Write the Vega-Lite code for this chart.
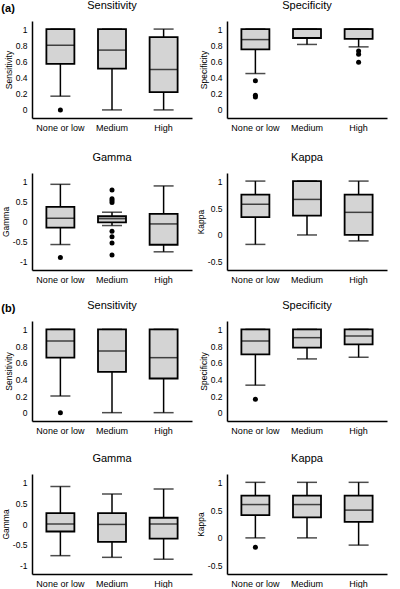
{
"$schema": "https://vega.github.io/schema/vega-lite/v6.json",
"padding": {"left": 1, "top": 0, "right": 4, "bottom": 0},
"spacing": 16,
"datasets": {
"boxes": [
{"g":"a","m":"Sensitivity","cat":"None or low","lo":0.17,"q1":0.57,"med":0.8,"q3":1,"hi":1},
{"g":"a","m":"Sensitivity","cat":"Medium","lo":0,"q1":0.51,"med":0.74,"q3":1,"hi":1},
{"g":"a","m":"Sensitivity","cat":"High","lo":0,"q1":0.22,"med":0.5,"q3":0.9,"hi":1},
{"g":"a","m":"Specificity","cat":"None or low","lo":0.45,"q1":0.75,"med":0.87,"q3":1,"hi":1},
{"g":"a","m":"Specificity","cat":"Medium","lo":0.81,"q1":0.89,"med":1,"q3":1,"hi":1},
{"g":"a","m":"Specificity","cat":"High","lo":0.78,"q1":0.88,"med":1,"q3":1,"hi":1},
{"g":"a","m":"Gamma","cat":"None or low","lo":-0.57,"q1":-0.15,"med":0.08,"q3":0.36,"hi":0.92},
{"g":"a","m":"Gamma","cat":"Medium","lo":-0.1,"q1":-0.02,"med":0.07,"q3":0.13,"hi":0.23},
{"g":"a","m":"Gamma","cat":"High","lo":-0.75,"q1":-0.575,"med":-0.06,"q3":0.19,"hi":0.88},
{"g":"a","m":"Kappa","cat":"None or low","lo":-0.175,"q1":0.33,"med":0.57,"q3":0.75,"hi":1},
{"g":"a","m":"Kappa","cat":"Medium","lo":0,"q1":0.36,"med":0.66,"q3":1,"hi":1},
{"g":"a","m":"Kappa","cat":"High","lo":-0.11,"q1":0,"med":0.42,"q3":0.75,"hi":1},
{"g":"b","m":"Sensitivity","cat":"None or low","lo":0.2,"q1":0.66,"med":0.86,"q3":1,"hi":1},
{"g":"b","m":"Sensitivity","cat":"Medium","lo":0,"q1":0.49,"med":0.74,"q3":1,"hi":1},
{"g":"b","m":"Sensitivity","cat":"High","lo":0,"q1":0.41,"med":0.66,"q3":1,"hi":1},
{"g":"b","m":"Specificity","cat":"None or low","lo":0.33,"q1":0.7,"med":0.86,"q3":1,"hi":1},
{"g":"b","m":"Specificity","cat":"Medium","lo":0.645,"q1":0.78,"med":0.9,"q3":1,"hi":1},
{"g":"b","m":"Specificity","cat":"High","lo":0.665,"q1":0.82,"med":0.92,"q3":1,"hi":1},
{"g":"b","m":"Gamma","cat":"None or low","lo":-0.76,"q1":-0.18,"med":0,"q3":0.26,"hi":0.9},
{"g":"b","m":"Gamma","cat":"Medium","lo":-0.8,"q1":-0.43,"med":-0.01,"q3":0.26,"hi":0.72},
{"g":"b","m":"Gamma","cat":"High","lo":-0.845,"q1":-0.35,"med":0,"q3":0.15,"hi":0.84},
{"g":"b","m":"Kappa","cat":"None or low","lo":0,"q1":0.41,"med":0.6,"q3":0.76,"hi":1},
{"g":"b","m":"Kappa","cat":"Medium","lo":0,"q1":0.37,"med":0.6,"q3":0.76,"hi":1},
{"g":"b","m":"Kappa","cat":"High","lo":-0.13,"q1":0.29,"med":0.5,"q3":0.76,"hi":1}
],
"outliers": [
{"g":"a","m":"Sensitivity","cat":"None or low","v":0},
{"g":"a","m":"Specificity","cat":"None or low","v":0.36},
{"g":"a","m":"Specificity","cat":"None or low","v":0.18},
{"g":"a","m":"Specificity","cat":"None or low","v":0.16},
{"g":"a","m":"Specificity","cat":"High","v":0.73},
{"g":"a","m":"Specificity","cat":"High","v":0.69},
{"g":"a","m":"Specificity","cat":"High","v":0.59},
{"g":"a","m":"Gamma","cat":"None or low","v":-0.89},
{"g":"a","m":"Gamma","cat":"Medium","v":0.78},
{"g":"a","m":"Gamma","cat":"Medium","v":0.56},
{"g":"a","m":"Gamma","cat":"Medium","v":0.52},
{"g":"a","m":"Gamma","cat":"Medium","v":0.47},
{"g":"a","m":"Gamma","cat":"Medium","v":-0.24},
{"g":"a","m":"Gamma","cat":"Medium","v":-0.38},
{"g":"a","m":"Gamma","cat":"Medium","v":-0.53},
{"g":"a","m":"Gamma","cat":"Medium","v":-0.83},
{"g":"b","m":"Sensitivity","cat":"None or low","v":0},
{"g":"b","m":"Specificity","cat":"None or low","v":0.16},
{"g":"b","m":"Kappa","cat":"None or low","v":-0.17}
]
},
"config": {
"font": "Liberation Sans",
"view": {"stroke": null},
"axis": {"grid": false, "domainColor": "black", "domainWidth": 1.5, "ticks": false, "labelOverlap": false, "labelFont": "Liberation Sans", "labelFontSize": 9, "labelColor": "black", "labelPadding": 5, "titleFont": "Liberation Sans", "titleFontSize": 8.5, "titleFontWeight": "normal", "titleColor": "black", "titlePadding": 2},
"axisX": {"labelAngle": 0, "labelPadding": 5},
"axisY": {"labelFontSize": 8.5, "labelOverlap": false},
"title": {"font": "Liberation Sans", "fontSize": 11, "fontWeight": "normal", "color": "black", "offset": 10}
},
"vconcat": [
{
"title": {"text": "(a)", "anchor": "start", "fontWeight": "bold", "fontSize": 11, "offset": -14},
"columns": 2,
"spacing": {"row": 20, "column": 4},
"concat": [
{"title": "Sensitivity", "width": 160, "height": 97, "data": {"name": "boxes"}, "transform": [{"filter": "datum.g=='a' && datum.m=='Sensitivity'"}],
"encoding": {"x": {"field": "cat", "type": "nominal", "scale": {"domain": ["None or low","Medium","High"], "paddingInner": 0, "paddingOuter": 0.05}, "axis": {"title": null}}},
"layer": [
{"mark": {"type": "rule", "color": "black", "strokeWidth": 1.5}, "encoding": {"y": {"field": "lo", "type": "quantitative", "title": "Sensitivity", "scale": {"domain": [-0.1, 1.1], "nice": false, "zero": false}, "axis": {"values": [0,0.2,0.4,0.6,0.8,1], "labelExpr": "'' + datum.value", "labelOverlap": false}}, "y2": {"field": "hi"}}},
{"mark": {"type": "bar", "size": 28, "fill": "#d4d4d4", "stroke": "black", "strokeWidth": 1.8}, "encoding": {"y": {"field": "q1", "type": "quantitative", "title": "Sensitivity", "scale": {"domain": [-0.1, 1.1], "nice": false, "zero": false}, "axis": {"values": [0,0.2,0.4,0.6,0.8,1], "labelExpr": "'' + datum.value", "labelOverlap": false}}, "y2": {"field": "q3"}}},
{"mark": {"type": "tick", "size": 28, "thickness": 1.5, "color": "black"}, "encoding": {"y": {"field": "med", "type": "quantitative", "title": "Sensitivity", "scale": {"domain": [-0.1, 1.1], "nice": false, "zero": false}, "axis": {"values": [0,0.2,0.4,0.6,0.8,1], "labelExpr": "'' + datum.value", "labelOverlap": false}}}},
{"mark": {"type": "tick", "size": 20, "thickness": 1.5, "color": "black"}, "encoding": {"y": {"field": "lo", "type": "quantitative", "title": "Sensitivity", "scale": {"domain": [-0.1, 1.1], "nice": false, "zero": false}, "axis": {"values": [0,0.2,0.4,0.6,0.8,1], "labelExpr": "'' + datum.value", "labelOverlap": false}}}},
{"mark": {"type": "tick", "size": 20, "thickness": 1.5, "color": "black"}, "encoding": {"y": {"field": "hi", "type": "quantitative", "title": "Sensitivity", "scale": {"domain": [-0.1, 1.1], "nice": false, "zero": false}, "axis": {"values": [0,0.2,0.4,0.6,0.8,1], "labelExpr": "'' + datum.value", "labelOverlap": false}}}},
{"data": {"name": "outliers"}, "transform": [{"filter": "datum.g=='a' && datum.m=='Sensitivity'"}], "mark": {"type": "circle", "size": 25, "color": "black", "opacity": 1}, "encoding": {"y": {"field": "v", "type": "quantitative", "title": "Sensitivity", "scale": {"domain": [-0.1, 1.1], "nice": false, "zero": false}, "axis": {"values": [0,0.2,0.4,0.6,0.8,1], "labelExpr": "'' + datum.value", "labelOverlap": false}}}}
]},
{"title": "Specificity", "width": 160, "height": 97, "data": {"name": "boxes"}, "transform": [{"filter": "datum.g=='a' && datum.m=='Specificity'"}],
"encoding": {"x": {"field": "cat", "type": "nominal", "scale": {"domain": ["None or low","Medium","High"], "paddingInner": 0, "paddingOuter": 0.05}, "axis": {"title": null}}},
"layer": [
{"mark": {"type": "rule", "color": "black", "strokeWidth": 1.5}, "encoding": {"y": {"field": "lo", "type": "quantitative", "title": "Specificity", "scale": {"domain": [-0.1, 1.1], "nice": false, "zero": false}, "axis": {"values": [0,0.2,0.4,0.6,0.8,1], "labelExpr": "'' + datum.value", "labelOverlap": false}}, "y2": {"field": "hi"}}},
{"mark": {"type": "bar", "size": 28, "fill": "#d4d4d4", "stroke": "black", "strokeWidth": 1.8}, "encoding": {"y": {"field": "q1", "type": "quantitative", "title": "Specificity", "scale": {"domain": [-0.1, 1.1], "nice": false, "zero": false}, "axis": {"values": [0,0.2,0.4,0.6,0.8,1], "labelExpr": "'' + datum.value", "labelOverlap": false}}, "y2": {"field": "q3"}}},
{"mark": {"type": "tick", "size": 28, "thickness": 1.5, "color": "black"}, "encoding": {"y": {"field": "med", "type": "quantitative", "title": "Specificity", "scale": {"domain": [-0.1, 1.1], "nice": false, "zero": false}, "axis": {"values": [0,0.2,0.4,0.6,0.8,1], "labelExpr": "'' + datum.value", "labelOverlap": false}}}},
{"mark": {"type": "tick", "size": 20, "thickness": 1.5, "color": "black"}, "encoding": {"y": {"field": "lo", "type": "quantitative", "title": "Specificity", "scale": {"domain": [-0.1, 1.1], "nice": false, "zero": false}, "axis": {"values": [0,0.2,0.4,0.6,0.8,1], "labelExpr": "'' + datum.value", "labelOverlap": false}}}},
{"mark": {"type": "tick", "size": 20, "thickness": 1.5, "color": "black"}, "encoding": {"y": {"field": "hi", "type": "quantitative", "title": "Specificity", "scale": {"domain": [-0.1, 1.1], "nice": false, "zero": false}, "axis": {"values": [0,0.2,0.4,0.6,0.8,1], "labelExpr": "'' + datum.value", "labelOverlap": false}}}},
{"data": {"name": "outliers"}, "transform": [{"filter": "datum.g=='a' && datum.m=='Specificity'"}], "mark": {"type": "circle", "size": 25, "color": "black", "opacity": 1}, "encoding": {"y": {"field": "v", "type": "quantitative", "title": "Specificity", "scale": {"domain": [-0.1, 1.1], "nice": false, "zero": false}, "axis": {"values": [0,0.2,0.4,0.6,0.8,1], "labelExpr": "'' + datum.value", "labelOverlap": false}}}}
]},
{"title": "Gamma", "width": 160, "height": 97, "data": {"name": "boxes"}, "transform": [{"filter": "datum.g=='a' && datum.m=='Gamma'"}],
"encoding": {"x": {"field": "cat", "type": "nominal", "scale": {"domain": ["None or low","Medium","High"], "paddingInner": 0, "paddingOuter": 0.05}, "axis": {"title": null}}},
"layer": [
{"mark": {"type": "rule", "color": "black", "strokeWidth": 1.5}, "encoding": {"y": {"field": "lo", "type": "quantitative", "title": "Gamma", "scale": {"domain": [-1.2, 1.2], "nice": false, "zero": false}, "axis": {"values": [-1,-0.5,0,0.5,1], "labelExpr": "'' + datum.value", "labelOverlap": false}}, "y2": {"field": "hi"}}},
{"mark": {"type": "bar", "size": 28, "fill": "#d4d4d4", "stroke": "black", "strokeWidth": 1.8}, "encoding": {"y": {"field": "q1", "type": "quantitative", "title": "Gamma", "scale": {"domain": [-1.2, 1.2], "nice": false, "zero": false}, "axis": {"values": [-1,-0.5,0,0.5,1], "labelExpr": "'' + datum.value", "labelOverlap": false}}, "y2": {"field": "q3"}}},
{"mark": {"type": "tick", "size": 28, "thickness": 1.5, "color": "black"}, "encoding": {"y": {"field": "med", "type": "quantitative", "title": "Gamma", "scale": {"domain": [-1.2, 1.2], "nice": false, "zero": false}, "axis": {"values": [-1,-0.5,0,0.5,1], "labelExpr": "'' + datum.value", "labelOverlap": false}}}},
{"mark": {"type": "tick", "size": 20, "thickness": 1.5, "color": "black"}, "encoding": {"y": {"field": "lo", "type": "quantitative", "title": "Gamma", "scale": {"domain": [-1.2, 1.2], "nice": false, "zero": false}, "axis": {"values": [-1,-0.5,0,0.5,1], "labelExpr": "'' + datum.value", "labelOverlap": false}}}},
{"mark": {"type": "tick", "size": 20, "thickness": 1.5, "color": "black"}, "encoding": {"y": {"field": "hi", "type": "quantitative", "title": "Gamma", "scale": {"domain": [-1.2, 1.2], "nice": false, "zero": false}, "axis": {"values": [-1,-0.5,0,0.5,1], "labelExpr": "'' + datum.value", "labelOverlap": false}}}},
{"data": {"name": "outliers"}, "transform": [{"filter": "datum.g=='a' && datum.m=='Gamma'"}], "mark": {"type": "circle", "size": 25, "color": "black", "opacity": 1}, "encoding": {"y": {"field": "v", "type": "quantitative", "title": "Gamma", "scale": {"domain": [-1.2, 1.2], "nice": false, "zero": false}, "axis": {"values": [-1,-0.5,0,0.5,1], "labelExpr": "'' + datum.value", "labelOverlap": false}}}}
]},
{"title": "Kappa", "width": 160, "height": 97, "data": {"name": "boxes"}, "transform": [{"filter": "datum.g=='a' && datum.m=='Kappa'"}],
"encoding": {"x": {"field": "cat", "type": "nominal", "scale": {"domain": ["None or low","Medium","High"], "paddingInner": 0, "paddingOuter": 0.05}, "axis": {"title": null}}},
"layer": [
{"mark": {"type": "rule", "color": "black", "strokeWidth": 1.5}, "encoding": {"y": {"field": "lo", "type": "quantitative", "title": "Kappa", "scale": {"domain": [-0.65, 1.15], "nice": false, "zero": false}, "axis": {"values": [-0.5,0,0.5,1], "labelExpr": "'' + datum.value", "labelOverlap": false}}, "y2": {"field": "hi"}}},
{"mark": {"type": "bar", "size": 28, "fill": "#d4d4d4", "stroke": "black", "strokeWidth": 1.8}, "encoding": {"y": {"field": "q1", "type": "quantitative", "title": "Kappa", "scale": {"domain": [-0.65, 1.15], "nice": false, "zero": false}, "axis": {"values": [-0.5,0,0.5,1], "labelExpr": "'' + datum.value", "labelOverlap": false}}, "y2": {"field": "q3"}}},
{"mark": {"type": "tick", "size": 28, "thickness": 1.5, "color": "black"}, "encoding": {"y": {"field": "med", "type": "quantitative", "title": "Kappa", "scale": {"domain": [-0.65, 1.15], "nice": false, "zero": false}, "axis": {"values": [-0.5,0,0.5,1], "labelExpr": "'' + datum.value", "labelOverlap": false}}}},
{"mark": {"type": "tick", "size": 20, "thickness": 1.5, "color": "black"}, "encoding": {"y": {"field": "lo", "type": "quantitative", "title": "Kappa", "scale": {"domain": [-0.65, 1.15], "nice": false, "zero": false}, "axis": {"values": [-0.5,0,0.5,1], "labelExpr": "'' + datum.value", "labelOverlap": false}}}},
{"mark": {"type": "tick", "size": 20, "thickness": 1.5, "color": "black"}, "encoding": {"y": {"field": "hi", "type": "quantitative", "title": "Kappa", "scale": {"domain": [-0.65, 1.15], "nice": false, "zero": false}, "axis": {"values": [-0.5,0,0.5,1], "labelExpr": "'' + datum.value", "labelOverlap": false}}}},
{"data": {"name": "outliers"}, "transform": [{"filter": "datum.g=='a' && datum.m=='Kappa'"}], "mark": {"type": "circle", "size": 25, "color": "black", "opacity": 1}, "encoding": {"y": {"field": "v", "type": "quantitative", "title": "Kappa", "scale": {"domain": [-0.65, 1.15], "nice": false, "zero": false}, "axis": {"values": [-0.5,0,0.5,1], "labelExpr": "'' + datum.value", "labelOverlap": false}}}}
]}
]
},
{
"title": {"text": "(b)", "anchor": "start", "fontWeight": "bold", "fontSize": 11, "offset": -14},
"columns": 2,
"spacing": {"row": 18, "column": 4},
"concat": [
{"title": "Sensitivity", "width": 160, "height": 100, "data": {"name": "boxes"}, "transform": [{"filter": "datum.g=='b' && datum.m=='Sensitivity'"}],
"encoding": {"x": {"field": "cat", "type": "nominal", "scale": {"domain": ["None or low","Medium","High"], "paddingInner": 0, "paddingOuter": 0.05}, "axis": {"title": null}}},
"layer": [
{"mark": {"type": "rule", "color": "black", "strokeWidth": 1.5}, "encoding": {"y": {"field": "lo", "type": "quantitative", "title": "Sensitivity", "scale": {"domain": [-0.1, 1.1], "nice": false, "zero": false}, "axis": {"values": [0,0.2,0.4,0.6,0.8,1], "labelExpr": "'' + datum.value", "labelOverlap": false}}, "y2": {"field": "hi"}}},
{"mark": {"type": "bar", "size": 28, "fill": "#d4d4d4", "stroke": "black", "strokeWidth": 1.8}, "encoding": {"y": {"field": "q1", "type": "quantitative", "title": "Sensitivity", "scale": {"domain": [-0.1, 1.1], "nice": false, "zero": false}, "axis": {"values": [0,0.2,0.4,0.6,0.8,1], "labelExpr": "'' + datum.value", "labelOverlap": false}}, "y2": {"field": "q3"}}},
{"mark": {"type": "tick", "size": 28, "thickness": 1.5, "color": "black"}, "encoding": {"y": {"field": "med", "type": "quantitative", "title": "Sensitivity", "scale": {"domain": [-0.1, 1.1], "nice": false, "zero": false}, "axis": {"values": [0,0.2,0.4,0.6,0.8,1], "labelExpr": "'' + datum.value", "labelOverlap": false}}}},
{"mark": {"type": "tick", "size": 20, "thickness": 1.5, "color": "black"}, "encoding": {"y": {"field": "lo", "type": "quantitative", "title": "Sensitivity", "scale": {"domain": [-0.1, 1.1], "nice": false, "zero": false}, "axis": {"values": [0,0.2,0.4,0.6,0.8,1], "labelExpr": "'' + datum.value", "labelOverlap": false}}}},
{"mark": {"type": "tick", "size": 20, "thickness": 1.5, "color": "black"}, "encoding": {"y": {"field": "hi", "type": "quantitative", "title": "Sensitivity", "scale": {"domain": [-0.1, 1.1], "nice": false, "zero": false}, "axis": {"values": [0,0.2,0.4,0.6,0.8,1], "labelExpr": "'' + datum.value", "labelOverlap": false}}}},
{"data": {"name": "outliers"}, "transform": [{"filter": "datum.g=='b' && datum.m=='Sensitivity'"}], "mark": {"type": "circle", "size": 25, "color": "black", "opacity": 1}, "encoding": {"y": {"field": "v", "type": "quantitative", "title": "Sensitivity", "scale": {"domain": [-0.1, 1.1], "nice": false, "zero": false}, "axis": {"values": [0,0.2,0.4,0.6,0.8,1], "labelExpr": "'' + datum.value", "labelOverlap": false}}}}
]},
{"title": "Specificity", "width": 160, "height": 100, "data": {"name": "boxes"}, "transform": [{"filter": "datum.g=='b' && datum.m=='Specificity'"}],
"encoding": {"x": {"field": "cat", "type": "nominal", "scale": {"domain": ["None or low","Medium","High"], "paddingInner": 0, "paddingOuter": 0.05}, "axis": {"title": null}}},
"layer": [
{"mark": {"type": "rule", "color": "black", "strokeWidth": 1.5}, "encoding": {"y": {"field": "lo", "type": "quantitative", "title": "Specificity", "scale": {"domain": [-0.1, 1.1], "nice": false, "zero": false}, "axis": {"values": [0,0.2,0.4,0.6,0.8,1], "labelExpr": "'' + datum.value", "labelOverlap": false}}, "y2": {"field": "hi"}}},
{"mark": {"type": "bar", "size": 28, "fill": "#d4d4d4", "stroke": "black", "strokeWidth": 1.8}, "encoding": {"y": {"field": "q1", "type": "quantitative", "title": "Specificity", "scale": {"domain": [-0.1, 1.1], "nice": false, "zero": false}, "axis": {"values": [0,0.2,0.4,0.6,0.8,1], "labelExpr": "'' + datum.value", "labelOverlap": false}}, "y2": {"field": "q3"}}},
{"mark": {"type": "tick", "size": 28, "thickness": 1.5, "color": "black"}, "encoding": {"y": {"field": "med", "type": "quantitative", "title": "Specificity", "scale": {"domain": [-0.1, 1.1], "nice": false, "zero": false}, "axis": {"values": [0,0.2,0.4,0.6,0.8,1], "labelExpr": "'' + datum.value", "labelOverlap": false}}}},
{"mark": {"type": "tick", "size": 20, "thickness": 1.5, "color": "black"}, "encoding": {"y": {"field": "lo", "type": "quantitative", "title": "Specificity", "scale": {"domain": [-0.1, 1.1], "nice": false, "zero": false}, "axis": {"values": [0,0.2,0.4,0.6,0.8,1], "labelExpr": "'' + datum.value", "labelOverlap": false}}}},
{"mark": {"type": "tick", "size": 20, "thickness": 1.5, "color": "black"}, "encoding": {"y": {"field": "hi", "type": "quantitative", "title": "Specificity", "scale": {"domain": [-0.1, 1.1], "nice": false, "zero": false}, "axis": {"values": [0,0.2,0.4,0.6,0.8,1], "labelExpr": "'' + datum.value", "labelOverlap": false}}}},
{"data": {"name": "outliers"}, "transform": [{"filter": "datum.g=='b' && datum.m=='Specificity'"}], "mark": {"type": "circle", "size": 25, "color": "black", "opacity": 1}, "encoding": {"y": {"field": "v", "type": "quantitative", "title": "Specificity", "scale": {"domain": [-0.1, 1.1], "nice": false, "zero": false}, "axis": {"values": [0,0.2,0.4,0.6,0.8,1], "labelExpr": "'' + datum.value", "labelOverlap": false}}}}
]},
{"title": "Gamma", "width": 160, "height": 100, "data": {"name": "boxes"}, "transform": [{"filter": "datum.g=='b' && datum.m=='Gamma'"}],
"encoding": {"x": {"field": "cat", "type": "nominal", "scale": {"domain": ["None or low","Medium","High"], "paddingInner": 0, "paddingOuter": 0.05}, "axis": {"title": null}}},
"layer": [
{"mark": {"type": "rule", "color": "black", "strokeWidth": 1.5}, "encoding": {"y": {"field": "lo", "type": "quantitative", "title": "Gamma", "scale": {"domain": [-1.2, 1.2], "nice": false, "zero": false}, "axis": {"values": [-1,-0.5,0,0.5,1], "labelExpr": "'' + datum.value", "labelOverlap": false}}, "y2": {"field": "hi"}}},
{"mark": {"type": "bar", "size": 28, "fill": "#d4d4d4", "stroke": "black", "strokeWidth": 1.8}, "encoding": {"y": {"field": "q1", "type": "quantitative", "title": "Gamma", "scale": {"domain": [-1.2, 1.2], "nice": false, "zero": false}, "axis": {"values": [-1,-0.5,0,0.5,1], "labelExpr": "'' + datum.value", "labelOverlap": false}}, "y2": {"field": "q3"}}},
{"mark": {"type": "tick", "size": 28, "thickness": 1.5, "color": "black"}, "encoding": {"y": {"field": "med", "type": "quantitative", "title": "Gamma", "scale": {"domain": [-1.2, 1.2], "nice": false, "zero": false}, "axis": {"values": [-1,-0.5,0,0.5,1], "labelExpr": "'' + datum.value", "labelOverlap": false}}}},
{"mark": {"type": "tick", "size": 20, "thickness": 1.5, "color": "black"}, "encoding": {"y": {"field": "lo", "type": "quantitative", "title": "Gamma", "scale": {"domain": [-1.2, 1.2], "nice": false, "zero": false}, "axis": {"values": [-1,-0.5,0,0.5,1], "labelExpr": "'' + datum.value", "labelOverlap": false}}}},
{"mark": {"type": "tick", "size": 20, "thickness": 1.5, "color": "black"}, "encoding": {"y": {"field": "hi", "type": "quantitative", "title": "Gamma", "scale": {"domain": [-1.2, 1.2], "nice": false, "zero": false}, "axis": {"values": [-1,-0.5,0,0.5,1], "labelExpr": "'' + datum.value", "labelOverlap": false}}}},
{"data": {"name": "outliers"}, "transform": [{"filter": "datum.g=='b' && datum.m=='Gamma'"}], "mark": {"type": "circle", "size": 25, "color": "black", "opacity": 1}, "encoding": {"y": {"field": "v", "type": "quantitative", "title": "Gamma", "scale": {"domain": [-1.2, 1.2], "nice": false, "zero": false}, "axis": {"values": [-1,-0.5,0,0.5,1], "labelExpr": "'' + datum.value", "labelOverlap": false}}}}
]},
{"title": "Kappa", "width": 160, "height": 100, "data": {"name": "boxes"}, "transform": [{"filter": "datum.g=='b' && datum.m=='Kappa'"}],
"encoding": {"x": {"field": "cat", "type": "nominal", "scale": {"domain": ["None or low","Medium","High"], "paddingInner": 0, "paddingOuter": 0.05}, "axis": {"title": null}}},
"layer": [
{"mark": {"type": "rule", "color": "black", "strokeWidth": 1.5}, "encoding": {"y": {"field": "lo", "type": "quantitative", "title": "Kappa", "scale": {"domain": [-0.65, 1.15], "nice": false, "zero": false}, "axis": {"values": [-0.5,0,0.5,1], "labelExpr": "'' + datum.value", "labelOverlap": false}}, "y2": {"field": "hi"}}},
{"mark": {"type": "bar", "size": 28, "fill": "#d4d4d4", "stroke": "black", "strokeWidth": 1.8}, "encoding": {"y": {"field": "q1", "type": "quantitative", "title": "Kappa", "scale": {"domain": [-0.65, 1.15], "nice": false, "zero": false}, "axis": {"values": [-0.5,0,0.5,1], "labelExpr": "'' + datum.value", "labelOverlap": false}}, "y2": {"field": "q3"}}},
{"mark": {"type": "tick", "size": 28, "thickness": 1.5, "color": "black"}, "encoding": {"y": {"field": "med", "type": "quantitative", "title": "Kappa", "scale": {"domain": [-0.65, 1.15], "nice": false, "zero": false}, "axis": {"values": [-0.5,0,0.5,1], "labelExpr": "'' + datum.value", "labelOverlap": false}}}},
{"mark": {"type": "tick", "size": 20, "thickness": 1.5, "color": "black"}, "encoding": {"y": {"field": "lo", "type": "quantitative", "title": "Kappa", "scale": {"domain": [-0.65, 1.15], "nice": false, "zero": false}, "axis": {"values": [-0.5,0,0.5,1], "labelExpr": "'' + datum.value", "labelOverlap": false}}}},
{"mark": {"type": "tick", "size": 20, "thickness": 1.5, "color": "black"}, "encoding": {"y": {"field": "hi", "type": "quantitative", "title": "Kappa", "scale": {"domain": [-0.65, 1.15], "nice": false, "zero": false}, "axis": {"values": [-0.5,0,0.5,1], "labelExpr": "'' + datum.value", "labelOverlap": false}}}},
{"data": {"name": "outliers"}, "transform": [{"filter": "datum.g=='b' && datum.m=='Kappa'"}], "mark": {"type": "circle", "size": 25, "color": "black", "opacity": 1}, "encoding": {"y": {"field": "v", "type": "quantitative", "title": "Kappa", "scale": {"domain": [-0.65, 1.15], "nice": false, "zero": false}, "axis": {"values": [-0.5,0,0.5,1], "labelExpr": "'' + datum.value", "labelOverlap": false}}}}
]}
]
}
]
}
